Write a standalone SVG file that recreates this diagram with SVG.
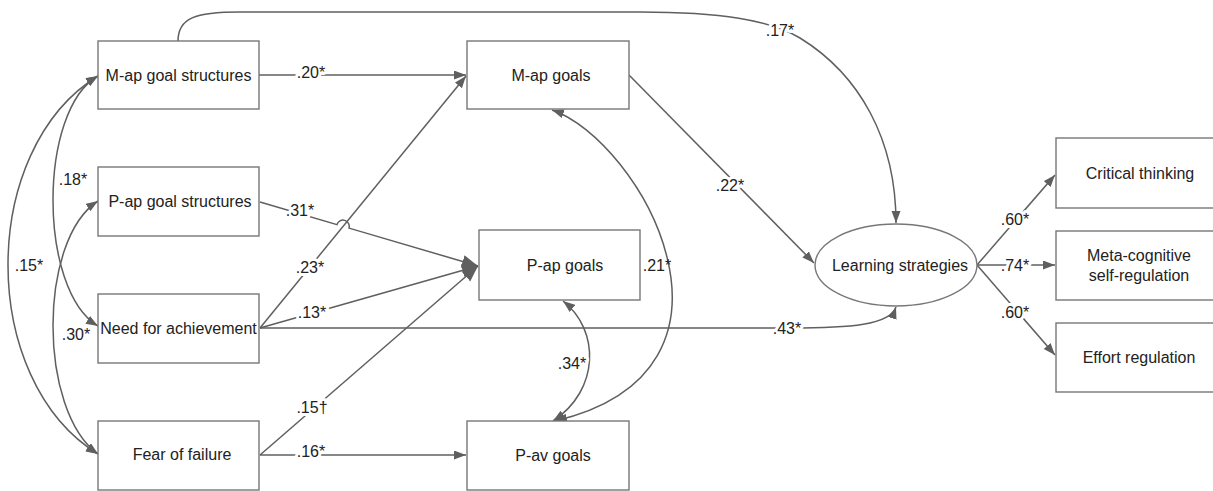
<svg xmlns="http://www.w3.org/2000/svg" width="1213" height="491" viewBox="0 0 1213 491">
<style>
.box{fill:#fff;stroke:#777;stroke-width:1.4}
.node text{font-family:"Liberation Sans",Arial,sans-serif;font-size:16px;fill:#222;text-anchor:middle}
.edge{fill:none;stroke:#5f5f5f;stroke-width:1.5}
.lbl{font-family:"Liberation Sans",Arial,sans-serif;font-size:16px;fill:#222;text-anchor:middle;stroke:#fff;stroke-width:6px;paint-order:stroke;stroke-linejoin:round}
.lbl2{font-family:"Liberation Sans",Arial,sans-serif;font-size:16px;fill:#222;text-anchor:middle}
</style>
<defs>
<marker id="ah" markerUnits="userSpaceOnUse" markerWidth="13" markerHeight="10" refX="12" refY="4.5" orient="auto-start-reverse">
<path d="M0,0 L12,4.5 L0,9 z" fill="#5f5f5f"/>
</marker>
<marker id="ahb" markerUnits="userSpaceOnUse" markerWidth="17" markerHeight="14" refX="16" refY="6.5" orient="auto">
<path d="M0,0 L16,6.5 L0,13 z" fill="#5f5f5f"/>
</marker>
</defs>
<rect width="1213" height="491" fill="#fff"/>

<g id="connectors">
<!-- left covariances -->
<path class="edge" d="M98,76 C38,110 38,290 98,326" marker-start="url(#ah)" marker-end="url(#ah)"/>
<path class="edge" d="M98,76 C-22,150 -22,380 98,454" marker-start="url(#ah)" marker-end="url(#ah)"/>
<path class="edge" d="M98,201 C38,240 38,410 98,454" marker-start="url(#ah)" marker-end="url(#ah)"/>
<!-- top curve .17 -->
<path class="edge" d="M178,41 C178,18 195,12 240,12 L640,12 C720,12 770,20 800,38 C860,75 896,140 896,223" marker-end="url(#ah)"/>
<!-- straight paths -->
<path class="edge" d="M259,75 L466,75" marker-end="url(#ah)"/>
<path class="edge" d="M629,75 L814,263" marker-end="url(#ah)"/>
<path class="edge" d="M260,328 L466,76" marker-end="url(#ah)"/>
<path class="edge" d="M260,202 L337,224.6 A6,6 0 0 1 349,228.1 L478,266" marker-end="url(#ahb)"/>
<path class="edge" d="M260,328 L478,266" marker-end="url(#ahb)"/>
<path class="edge" d="M260,455 L478,266" marker-end="url(#ahb)"/>
<path class="edge" d="M260,455 L466,455" marker-end="url(#ah)"/>
<path class="edge" d="M260,328 L790,328 C850,328 890,325 896,307" marker-end="url(#ah)"/>
<!-- covariances on right of middle -->
<path class="edge" d="M563,301 C600,330 600,390 553,421" marker-start="url(#ah)" marker-end="url(#ah)"/>
<path class="edge" d="M552,110 C640,140 770,370 555,421" marker-start="url(#ah)" marker-end="url(#ah)"/>
<!-- outputs -->
<path class="edge" d="M977,265 L1055,175" marker-end="url(#ah)"/>
<path class="edge" d="M977,265 L1055,265" marker-end="url(#ah)"/>
<path class="edge" d="M977,265 L1055,355" marker-end="url(#ah)"/>
<!-- labels -->
<text class="lbl" x="311" y="78">.20*</text>
<text class="lbl" x="780" y="36">.17*</text>
<text class="lbl" x="73" y="185">.18*</text>
<text class="lbl" x="29" y="271">.15*</text>
<text class="lbl" x="76" y="340">.30*</text>
<text class="lbl" x="300" y="216">.31*</text>
<text class="lbl" x="310" y="273">.23*</text>
<text class="lbl" x="312" y="318">.13*</text>
<text class="lbl" x="312" y="413">.15†</text>
<text class="lbl" x="311" y="457">.16*</text>
<text class="lbl" x="730" y="191">.22*</text>
<text class="lbl2" x="657" y="271">.21*</text>
<text class="lbl" x="572" y="369">.34*</text>
<text class="lbl" x="787" y="334">.43*</text>
<text class="lbl" x="1015" y="225">.60*</text>
<text class="lbl" x="1015" y="271">.74*</text>
<text class="lbl" x="1015" y="318">.60*</text>
</g>

<g id="n-map-gs" class="node"><rect class="box" x="98" y="41" width="161" height="68"/><text x="178.5" y="81">M-ap goal structures</text></g>
<g id="n-pap-gs" class="node"><rect class="box" x="98" y="167" width="161" height="69"/><text x="180" y="207">P-ap goal structures</text></g>
<g id="n-need" class="node"><rect class="box" x="98" y="294" width="161" height="69"/><text x="178.5" y="334">Need for achievement</text></g>
<g id="n-fear" class="node"><rect class="box" x="98" y="421" width="161" height="69"/><text x="182" y="460">Fear of failure</text></g>
<g id="n-map-goals" class="node"><rect class="box" x="467" y="41" width="162" height="68"/><text x="551" y="81">M-ap goals</text></g>
<g id="n-pap-goals" class="node"><rect class="box" x="479" y="230" width="161" height="70"/><text x="565" y="271">P-ap goals</text></g>
<g id="n-pav-goals" class="node"><rect class="box" x="467" y="421" width="162" height="69"/><text x="553" y="461">P-av goals</text></g>
<g id="n-learning" class="node"><ellipse class="box" cx="896" cy="265" rx="81" ry="41"/><text x="900" y="271">Learning strategies</text></g>
<g id="n-critical" class="node"><rect class="box" x="1056" y="138" width="161" height="70"/><text x="1140" y="179">Critical thinking</text></g>
<g id="n-meta" class="node"><rect class="box" x="1056" y="231" width="161" height="69"/><text x="1139" y="261">Meta-cognitive</text><text x="1139" y="281">self-regulation</text></g>
<g id="n-effort" class="node"><rect class="box" x="1056" y="323" width="161" height="69"/><text x="1139" y="363">Effort regulation</text></g>
</svg>
